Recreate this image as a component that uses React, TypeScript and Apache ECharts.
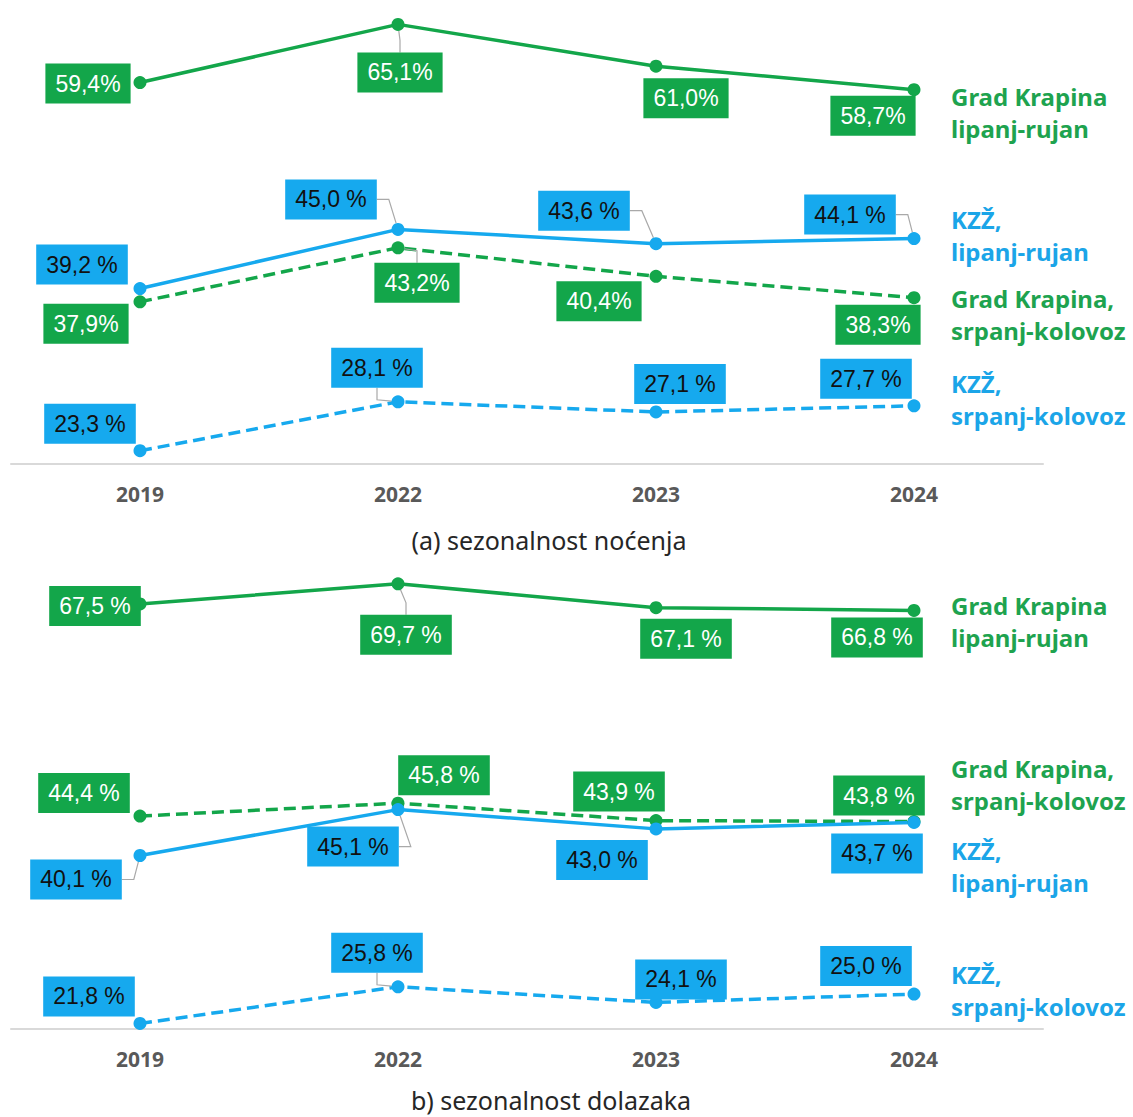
import React, { useEffect, useRef } from "react";
import * as echarts from "echarts";

// Categories
const years = ["2019", "2022", "2023", "2024"];

// (a) sezonalnost noćenja
const nocKrapinaLR = [59.4, 65.1, 61.0, 58.7];
const nocKzzLR = [39.2, 45.0, 43.6, 44.1];
const nocKrapinaSK = [37.9, 43.2, 40.4, 38.3];
const nocKzzSK = [23.3, 28.1, 27.1, 27.7];

// (b) sezonalnost dolazaka
const dolKrapinaLR = [67.5, 69.7, 67.1, 66.8];
const dolKrapinaSK = [44.4, 45.8, 43.9, 43.8];
const dolKzzLR = [40.1, 45.1, 43.0, 43.7];
const dolKzzSK = [21.8, 25.8, 24.1, 25.0];

// Series names
const nameKrapinaLR = "Grad Krapina\nlipanj-rujan";
const nameKrapinaSK = "Grad Krapina,\nsrpanj-kolovoz";
const nameKzzLR = "KZŽ,\nlipanj-rujan";
const nameKzzSK = "KZŽ,\nsrpanj-kolovoz";

const captionA = "(a) sezonalnost noćenja";
const captionB = "b) sezonalnost dolazaka";

const GREEN = "#13a64a";
const BLUE = "#16a9ee";
const GREEN_TXT = "#1ea34f";
const BLUE_TXT = "#1ba5e8";

type Off = number[][];

function makeSeries(
  name: string,
  values: number[],
  grid: number,
  color: string,
  dashed: boolean,
  labelText: string,
  sep: string,
  offsets: Off,
  guides: number[],
  endDy: number,
  nameColor: string
) {
  return {
    type: "line",
    name,
    xAxisIndex: grid,
    yAxisIndex: grid,
    data: values.map((v, i) => ({
      value: v,
      labelLine: { show: guides.indexOf(i) >= 0 },
    })),
    symbol: "circle",
    symbolSize: 13,
    itemStyle: { color },
    lineStyle: { color, width: 3.5, type: dashed ? [12, 6] : "solid" },
    label: {
      show: true,
      position: "inside",
      formatter: (p: any) => {
        const v = typeof p.value === "number" ? p.value : Number(p.value);
        return v.toFixed(1).replace(".", ",") + sep + "%";
      },
      backgroundColor: color,
      color: labelText,
      fontFamily: "Liberation Sans, Arial, sans-serif",
      fontSize: 23,
      lineHeight: 24,
      padding: [8, 10],
    },
    labelLine: {
      show: false,
      length2: 12,
      lineStyle: { color: "#a9a9a9", width: 1.2 },
    },
    labelLayout: (p: any) => {
      const o = p && p.dataIndex != null ? offsets[p.dataIndex] : undefined;
      if (!o) return {};
      return { dx: o[0], dy: o[1] };
    },
    endLabel: {
      show: true,
      formatter: () => name,
      distance: 0,
      offset: [37, endDy],
      color: nameColor,
      fontFamily: "Noto Sans, sans-serif",
      fontWeight: "bold",
      fontSize: 24,
      lineHeight: 32,
      align: "left",
      verticalAlign: "middle",
    },
    emphasis: { disabled: true },
    z: 3,
  };
}

export default function App() {
  const ref = useRef<HTMLDivElement>(null);
  useEffect(() => {
    if (!ref.current) return;
    const chart = echarts.init(ref.current, undefined, { renderer: "svg" });
    const axisCommon = {
      type: "category",
      data: years,
      boundaryGap: true,
      axisLine: { lineStyle: { color: "#d9d9d9", width: 2 } },
      axisTick: { show: false },
      axisLabel: {
        color: "#595959",
        fontWeight: "bold",
        fontSize: 21,
        fontFamily: "Noto Sans, sans-serif",
        margin: 19,
      },
      splitLine: { show: false },
    };
    const option: any = {
      animation: false,
      backgroundColor: "#ffffff",
      grid: [
        { left: 11, width: 1032, top: 5, height: 459 },
        { left: 11, width: 1032, top: 570, height: 459 },
      ],
      xAxis: [
        { ...axisCommon, gridIndex: 0 },
        { ...axisCommon, gridIndex: 1 },
      ],
      yAxis: [
        { type: "value", gridIndex: 0, min: 22, max: 67, show: false },
        { type: "value", gridIndex: 1, min: 21.2, max: 71.2, show: false },
      ],
      graphic: [
        {
          type: "text",
          x: 549,
          y: 540,
          style: {
            text: captionA,
            font: "25px 'Noto Sans', sans-serif",
            fill: "#262626",
            align: "center",
            verticalAlign: "middle",
          },
        },
        {
          type: "text",
          x: 551,
          y: 1100,
          style: {
            text: captionB,
            font: "25px 'Noto Sans', sans-serif",
            fill: "#262626",
            align: "center",
            verticalAlign: "middle",
          },
        },
      ],
      series: [
        makeSeries(nameKrapinaLR, nocKrapinaLR, 0, GREEN, false, "#ffffff", "",
          [[-52, 1], [2, 48], [30, 32], [-41, 26]], [1], 23, GREEN_TXT),
        makeSeries(nameKzzLR, nocKzzLR, 0, BLUE, false, "#111111", " ",
          [[-58, -24], [-67, -30], [-72, -33], [-64, -24]], [1, 2, 3], -3, BLUE_TXT),
        makeSeries(nameKrapinaSK, nocKrapinaSK, 0, GREEN, true, "#ffffff", "",
          [[-54, 22], [19, 35], [-57, 25], [-36, 27]], [1], 17, GREEN_TXT),
        makeSeries(nameKzzSK, nocKzzSK, 0, BLUE, true, "#111111", " ",
          [[-50, -27], [-21, -34], [24, -28], [-48, -27]], [1], -6, BLUE_TXT),
        makeSeries(nameKrapinaLR, dolKrapinaLR, 1, GREEN, false, "#ffffff", " ",
          [[-45, 2], [8, 51], [30, 31], [-37, 27]], [1], 11, GREEN_TXT),
        makeSeries(nameKrapinaSK, dolKrapinaSK, 1, GREEN, true, "#ffffff", " ",
          [[-56, -23], [46, -28], [-37, -29], [-35, -26]], [], -37, GREEN_TXT),
        makeSeries(nameKzzLR, dolKzzLR, 1, BLUE, false, "#111111", " ",
          [[-64, 24], [-45, 37], [-54, 31], [-37, 31]], [0, 1], 44, BLUE_TXT),
        makeSeries(nameKzzSK, dolKzzSK, 1, BLUE, true, "#111111", " ",
          [[-51, -27], [-21, -34], [25, -23], [-48, -28]], [1], -4, BLUE_TXT),
      ],
    };
    chart.setOption(option);
    return () => chart.dispose();
  }, []);
  return (
    <div
      ref={ref}
      style={{ position: "absolute", left: 0, top: 0, width: 1133, height: 1117, background: "#fff" }}
    />
  );
}
